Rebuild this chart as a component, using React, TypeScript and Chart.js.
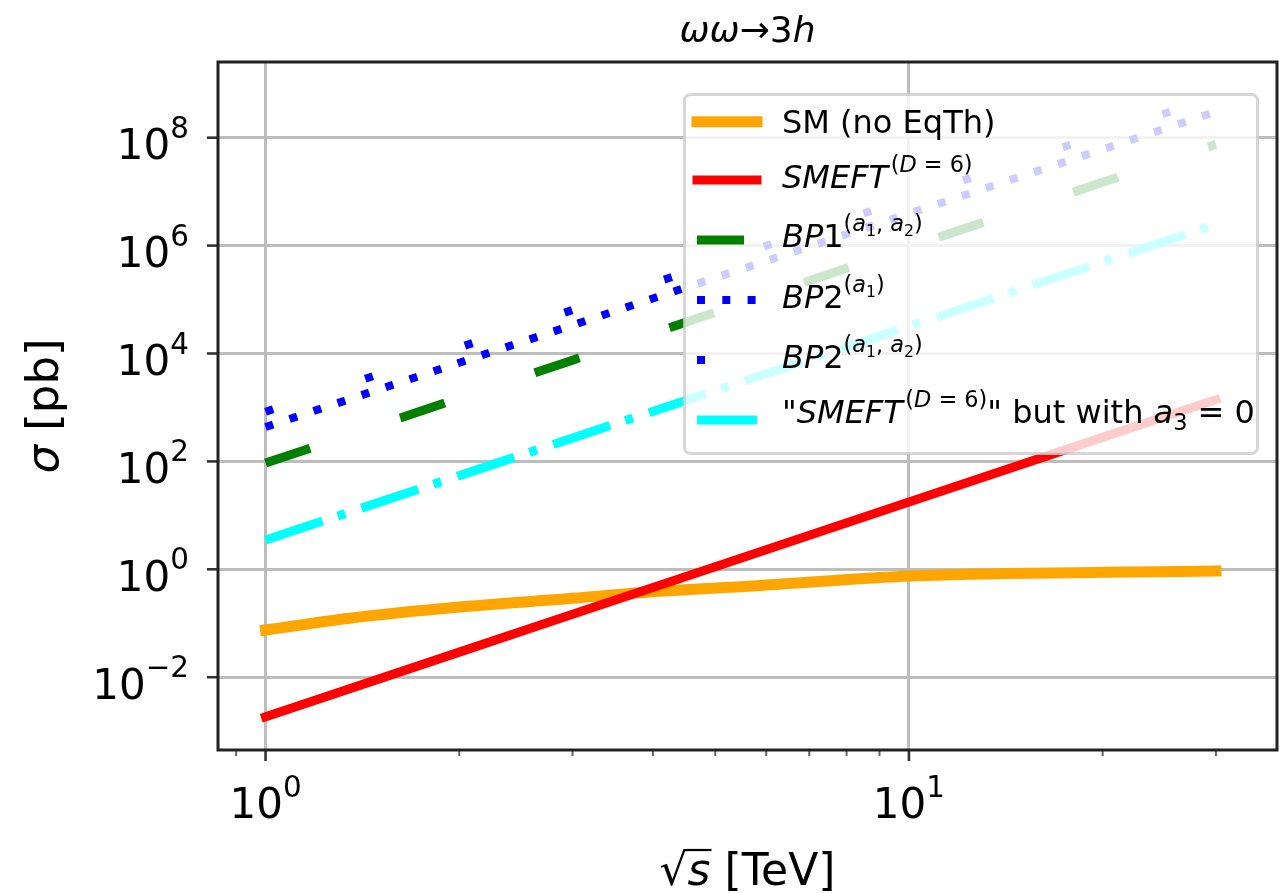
import React, { useEffect, useRef } from 'react';
import { Chart, registerables } from 'chart.js';

Chart.register(...registerables);

// ---------------- data ----------------
const smEnergy = [1, 1.35, 2, 3, 4, 5.7, 10, 20, 30];
const smXsec = [0.075, 0.124, 0.2, 0.29, 0.385, 0.49, 0.75, 0.88, 0.93];

const energy = [1, 2, 3, 5, 10, 20, 30];
const smeftXsec = [0.00185, 0.0292, 0.147, 1.12, 17.7, 279, 1400];
const bp1Xsec = [93, 1490, 7530, 58100, 930000, 1.49e7, 7.53e7];
const bp2a1Xsec = [434, 6740, 33500, 253000, 3.92e6, 6.09e7, 3.03e8];
const bp2a1a2Xsec = [830, 12900, 64100, 483000, 7.5e6, 1.17e8, 5.79e8];
const smeftNoA3Xsec = [3.5, 54.5, 271, 2050, 31900, 4.97e5, 2.47e6];

const xMajorTicks = [1, 10];
const xMajorPowers = ['0', '1'];
const xMinorTicks = [0.9, 2, 3, 4, 5, 6, 7, 8, 9, 20, 30];
const yMajorTicks = [1e-2, 1, 1e2, 1e4, 1e6, 1e8];
const yMajorPowers = ['\u22122', '0', '2', '4', '6', '8'];

// ---------------- rich text helpers ----------------
const FAM = '"DejaVu Sans", sans-serif';
type Seg = { t: string; it?: boolean; lv?: number; over?: boolean };

function segSize(lv: number, S: number) {
  if (lv === 1 || lv === 2) return S * 0.7;
  if (lv === 3) return S * 0.49;
  return S;
}
function segDy(lv: number, S: number) {
  if (lv === 1) return -0.51 * S;
  if (lv === 2) return 0.22 * S;
  if (lv === 3) return -0.51 * S + 0.22 * 0.7 * S;
  return 0;
}
function fontOf(s: Seg, S: number) {
  return `${s.it ? 'italic ' : ''}${segSize(s.lv || 0, S)}px ${FAM}`;
}
function layoutRich(ctx: CanvasRenderingContext2D, segs: Seg[], S: number) {
  const pos: number[] = [];
  let w = 0;
  let prev: Seg | null = null;
  for (const s of segs) {
    if (prev && prev.it && (prev.lv || 0) === 0 && s.lv === 1) w += 0.08 * S;
    ctx.font = fontOf(s, S);
    pos.push(w);
    w += ctx.measureText(s.t).width;
    prev = s;
  }
  return { pos, w };
}
function drawRich(
  ctx: CanvasRenderingContext2D,
  segs: Seg[],
  x: number,
  y: number,
  S: number,
  align: 'left' | 'center' | 'right'
) {
  const { pos, w } = layoutRich(ctx, segs, S);
  const x0 = align === 'center' ? x - w / 2 : align === 'right' ? x - w : x;
  ctx.textAlign = 'left';
  ctx.textBaseline = 'alphabetic';
  segs.forEach((s, i) => {
    ctx.font = fontOf(s, S);
    const px = x0 + pos[i];
    ctx.fillText(s.t, px, y + segDy(s.lv || 0, S));
    if (s.over) {
      const tw = ctx.measureText(s.t).width;
      ctx.save();
      ctx.font = `${S}px ${FAM}`;
      const top = ctx.measureText('\u221A').actualBoundingBoxAscent;
      ctx.restore();
      ctx.beginPath();
      ctx.lineWidth = 0.05 * S;
      ctx.moveTo(px - 1, y - top + 1);
      ctx.lineTo(px + tw + 1, y - top + 1);
      ctx.stroke();
    }
  });
}

// ---------------- series styles ----------------
const series = [
  { name: 'sm', data: [smEnergy, smXsec], color: '#ffa500', width: 11, dash: [] as number[], cap: 'square', smooth: true },
  { name: 'smeft', data: [energy, smeftXsec], color: '#ff0000', width: 9, dash: [] as number[], cap: 'square', smooth: false },
  { name: 'bp1', data: [energy, bp1Xsec], color: '#008000', width: 9, dash: [47, 95], cap: 'butt', smooth: false },
  { name: 'bp2a1', data: [energy, bp2a1Xsec], color: '#0000ff', width: 8, dash: [8, 17.3], cap: 'butt', smooth: false },
  { name: 'bp2a1a2', data: [energy, bp2a1a2Xsec], color: '#0000ff', width: 8, dash: [8, 97], cap: 'butt', smooth: false },
  { name: 'noa3', data: [energy, smeftNoA3Xsec], color: '#00ffff', width: 9, dash: [60, 16, 8, 17], cap: 'butt', smooth: false },
];

const legendLabels: Seg[][] = [
  [{ t: 'SM (no EqTh)' }],
  [{ t: 'SMEFT', it: true }, { t: '(', lv: 1 }, { t: 'D', it: true, lv: 1 }, { t: ' = 6)', lv: 1 }],
  [
    { t: 'BP', it: true }, { t: '1' },
    { t: '(', lv: 1 }, { t: 'a', it: true, lv: 1 }, { t: '1', lv: 3 }, { t: ', ', lv: 1 },
    { t: 'a', it: true, lv: 1 }, { t: '2', lv: 3 }, { t: ')', lv: 1 },
  ],
  [{ t: 'BP', it: true }, { t: '2' }, { t: '(', lv: 1 }, { t: 'a', it: true, lv: 1 }, { t: '1', lv: 3 }, { t: ')', lv: 1 }],
  [
    { t: 'BP', it: true }, { t: '2' },
    { t: '(', lv: 1 }, { t: 'a', it: true, lv: 1 }, { t: '1', lv: 3 }, { t: ', ', lv: 1 },
    { t: 'a', it: true, lv: 1 }, { t: '2', lv: 3 }, { t: ')', lv: 1 },
  ],
  [
    { t: '"' }, { t: 'SMEFT', it: true }, { t: '(', lv: 1 }, { t: 'D', it: true, lv: 1 }, { t: ' = 6)', lv: 1 },
    { t: '" but with ' }, { t: 'a', it: true }, { t: '3', lv: 2 }, { t: ' = 0' },
  ],
];

// ---------------- overlay plugin ----------------
const overlay = {
  id: 'overlay',
  afterDraw(chart: any) {
    const ctx: CanvasRenderingContext2D = chart.ctx;
    const { left, right, top, bottom } = chart.chartArea;
    const xs = chart.scales.x;
    const ys = chart.scales.y;
    ctx.save();

    // tick marks
    ctx.strokeStyle = '#333';
    ctx.lineWidth = 2.6;
    xMajorTicks.forEach((v) => {
      const p = xs.getPixelForValue(v);
      ctx.beginPath(); ctx.moveTo(p, bottom); ctx.lineTo(p, bottom + 11); ctx.stroke();
    });
    yMajorTicks.forEach((v) => {
      const p = ys.getPixelForValue(v);
      ctx.beginPath(); ctx.moveTo(left - 11, p); ctx.lineTo(left, p); ctx.stroke();
    });
    ctx.strokeStyle = '#666';
    ctx.lineWidth = 2;
    xMinorTicks.forEach((v) => {
      const p = xs.getPixelForValue(v);
      ctx.beginPath(); ctx.moveTo(p, bottom); ctx.lineTo(p, bottom + 6); ctx.stroke();
    });

    // spines
    ctx.strokeStyle = '#222';
    ctx.lineWidth = 3;
    ctx.strokeRect(left, top, right - left, bottom - top);

    // tick labels
    ctx.fillStyle = '#000';
    ctx.strokeStyle = '#000';
    xMajorTicks.forEach((v, i) => {
      const p = xs.getPixelForValue(v);
      drawRich(ctx, [{ t: '10' }, { t: xMajorPowers[i], lv: 1 }], p, 818, 42, 'center');
    });
    yMajorTicks.forEach((v, i) => {
      const p = ys.getPixelForValue(v);
      drawRich(ctx, [{ t: '10' }, { t: yMajorPowers[i], lv: 1 }], 189, p + 21.5, 42, 'right');
    });

    // axis titles
    drawRich(ctx, [{ t: '\u221A' }, { t: 's', it: true, over: true }, { t: ' [TeV]' }], (left + right) / 2, 885, 44, 'center');
    ctx.save();
    ctx.translate(58, (top + bottom) / 2);
    ctx.rotate(-Math.PI / 2);
    drawRich(ctx, [{ t: '\u03C3', it: true }, { t: ' [pb]' }], 0, 0, 45, 'center');
    ctx.restore();

    // title
    drawRich(ctx, [{ t: '\u03C9\u03C9', it: true }, { t: '\u2192' }, { t: '3' }, { t: 'h', it: true }], (left + right) / 2, 42, 36, 'center');

    // legend
    const lx0 = 684.5, ly0 = 94.5, lx1 = 1257.5, ly1 = 453.5;
    ctx.beginPath();
    ctx.roundRect(lx0, ly0, lx1 - lx0, ly1 - ly0, 6);
    ctx.fillStyle = 'rgba(255,255,255,0.8)';
    ctx.fill();
    ctx.strokeStyle = 'rgba(204,204,204,0.8)';
    ctx.lineWidth = 3;
    ctx.stroke();

    const rowY = [121.7, 180, 240, 300, 360, 420];
    const baseY = [133, 188.3, 247, 308.3, 368.3, 423.3];
    series.forEach((s, i) => {
      ctx.save();
      ctx.beginPath();
      ctx.strokeStyle = s.color;
      ctx.lineWidth = s.width;
      ctx.lineCap = s.cap as CanvasLineCap;
      ctx.setLineDash(s.dash);
      ctx.moveTo(697, rowY[i]);
      ctx.lineTo(757, rowY[i]);
      ctx.stroke();
      ctx.restore();
      ctx.fillStyle = '#000';
      drawRich(ctx, legendLabels[i], 782, baseY[i], 32, 'left');
    });

    ctx.restore();
  },
};

export default function App() {
  const ref = useRef<HTMLCanvasElement>(null);
  useEffect(() => {
    const canvas = ref.current;
    if (!canvas) return;
    const datasets = series.map((s, i) => ({
      label: s.name,
      data: s.data[0].map((x, k) => ({ x, y: s.data[1][k] })),
      borderColor: s.color,
      backgroundColor: s.color,
      borderWidth: s.width,
      borderDash: s.dash,
      borderCapStyle: s.cap,
      borderJoinStyle: 'round',
      cubicInterpolationMode: s.smooth ? 'monotone' : 'default',
      tension: 0,
      pointRadius: 0,
      pointHoverRadius: 0,
      fill: false,
      order: series.length - i,
    }));
    const chart = new Chart(canvas, {
      type: 'line',
      data: { datasets } as any,
      options: {
        animation: false,
        responsive: false,
        events: [],
        layout: { padding: { top: 62, right: 3, left: 0, bottom: 0 } },
        plugins: { legend: { display: false }, title: { display: false }, tooltip: { enabled: false } },
        scales: {
          x: {
            type: 'logarithmic',
            position: 'bottom',
            min: 0.8435,
            max: 37.33,
            afterBuildTicks: (sc: any) => { sc.ticks = xMajorTicks.map((v) => ({ value: v })); },
            afterFit: (sc: any) => { sc.height = 143; },
            ticks: { display: false },
            grid: { color: '#bdbdbd', lineWidth: 3, drawTicks: false },
            border: { display: false },
          },
          y: {
            type: 'logarithmic',
            position: 'left',
            min: 4.477e-4,
            max: 2.529e9,
            afterBuildTicks: (sc: any) => { sc.ticks = yMajorTicks.map((v) => ({ value: v })); },
            afterFit: (sc: any) => { sc.width = 218; },
            ticks: { display: false },
            grid: { color: '#bdbdbd', lineWidth: 3, drawTicks: false },
            border: { display: false },
          },
        },
      } as any,
      plugins: [overlay],
    });
    return () => chart.destroy();
  }, []);
  return (
    <div style={{ position: 'absolute', left: 0, top: 0, width: 1280, height: 893, background: '#fff' }}>
      <canvas ref={ref} width={1280} height={893} style={{ display: 'block', width: 1280, height: 893 }} />
    </div>
  );
}
